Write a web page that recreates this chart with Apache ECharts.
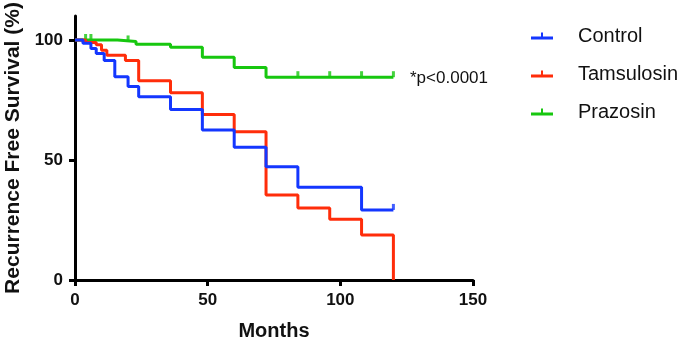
<!DOCTYPE html>
<html>
<head>
<meta charset="utf-8">
<script src="https://cdn.jsdelivr.net/npm/echarts@6/dist/echarts.min.js"></script>
<style>html,body{margin:0;padding:0;background:#fff}#c{width:685px;height:344px}</style>
</head>
<body>
<div id="c"></div>
<script>
// Kaplan-Meier step data (months, % recurrence free)
const controlTimes = [0, 3, 6, 8, 11, 15, 20, 24, 36, 48, 60, 72, 84, 108, 120];
const controlSurv  = [100, 98.6, 96.5, 94.4, 91.5, 84.7, 80.6, 76.4, 71, 62.5, 55.3, 47.2, 38.6, 29.2, 29.2];
const controlCensor = [120];

const tamsTimes = [0, 4, 8, 10, 12, 19, 24, 36, 48, 60, 72, 84, 96, 108, 120];
const tamsSurv  = [100, 99, 98, 95.7, 93.6, 91.5, 83, 78, 69, 61.8, 35.4, 30, 25.3, 18.75, 0];
const tamsCensor = [];

const prazTimes = [0, 16, 23, 36, 48, 60, 72, 120];
const prazSurv  = [100, 99.4, 98.2, 97, 92.8, 88.5, 84.5, 84.5];
const prazCensor = [4, 6, 20, 84, 96, 108, 120];

const seriesNames = ['Control', 'Tamsulosin', 'Prazosin'];
const xTicks = [0, 50, 100, 150];
const yTicks = [0, 50, 100];
const pText = '*p<0.0001';

const colors = ['#1437ff', '#ff2d0a', '#17c70f'];

function pairs(t, s) { return t.map((v, i) => [v, s[i]]); }
function stepValue(t, s, x) {
  let v = s[0];
  for (let i = 0; i < t.length; i++) { if (t[i] <= x) v = s[i]; }
  return v;
}
function censorPts(c, t, s) { return c.map(x => [x, stepValue(t, s, x)]); }

const groups = [
  [controlTimes, controlSurv, controlCensor],
  [tamsTimes, tamsSurv, tamsCensor],
  [prazTimes, prazSurv, prazCensor]
];

const series = [];
groups.forEach((g, i) => {
  series.push({
    name: seriesNames[i], type: 'line', step: 'end', data: pairs(g[0], g[1]),
    showSymbol: false, symbol: 'none', lineStyle: { color: colors[i], width: 3 },
    itemStyle: { color: colors[i] }, z: 3 - i + 2, animation: false
  });
  series.push({
    name: seriesNames[i], type: 'scatter', data: censorPts(g[2], g[0], g[1]),
    symbol: 'rect', symbolSize: [3, 6], symbolOffset: [0, -3],
    itemStyle: { color: colors[i] }, z: 3 - i + 2, animation: false
  });
});

const chart = echarts.init(document.getElementById('c'), null, { renderer: 'canvas' });
const font = 'Liberation Sans, Arial, Helvetica, sans-serif';
chart.setOption({
  animation: false,
  backgroundColor: '#fff',
  grid: { left: 75, right: 212, top: 16, bottom: 64, containLabel: false, outerBoundsMode: 'none' },
  xAxis: {
    type: 'value', min: 0, max: 150, interval: 50,
    name: 'Months', nameLocation: 'middle', nameGap: 41,
    nameTextStyle: { fontFamily: font, fontWeight: 'bold', fontSize: 20, color: '#111' },
    axisLine: { show: true, onZero: false, lineStyle: { color: '#000', width: 3 } },
    axisTick: { show: true, length: 6, lineStyle: { color: '#000', width: 3 }, customValues: xTicks },
    axisLabel: { fontFamily: font, fontWeight: 'bold', fontSize: 17, color: '#111', margin: 12, customValues: xTicks },
    splitLine: { show: false }
  },
  yAxis: {
    type: 'value', min: 0, max: 110,
    name: 'Recurrence Free Survival (%)', nameLocation: 'middle', nameGap: 48,
    nameTextStyle: { fontFamily: font, fontWeight: 'bold', fontSize: 21, color: '#111' },
    axisLine: { show: true, onZero: false, lineStyle: { color: '#000', width: 3 } },
    axisTick: { show: true, length: 6, lineStyle: { color: '#000', width: 3 }, customValues: yTicks },
    axisLabel: { fontFamily: font, fontWeight: 'bold', fontSize: 17, color: '#111', margin: 12, customValues: yTicks },
    splitLine: { show: false }
  },
  legend: {
    orient: 'vertical', left: 526, top: 21, itemGap: 18,
    data: seriesNames.map((n, i) => ({ name: n, icon: 'path://M0,6H10V2H12V6H22V9H0Z', itemStyle: { color: colors[i] } })),
    itemWidth: 22, itemHeight: 8,
    textStyle: { fontFamily: font, fontSize: 20, color: '#111', padding: [0, 0, 0, 20] }
  },
  graphic: [{
    type: 'text', left: 410, top: 70,
    style: { text: pText, fontFamily: font, fontSize: 17, fill: '#111' }
  }],
  series: series
});
</script>
</body>
</html>
